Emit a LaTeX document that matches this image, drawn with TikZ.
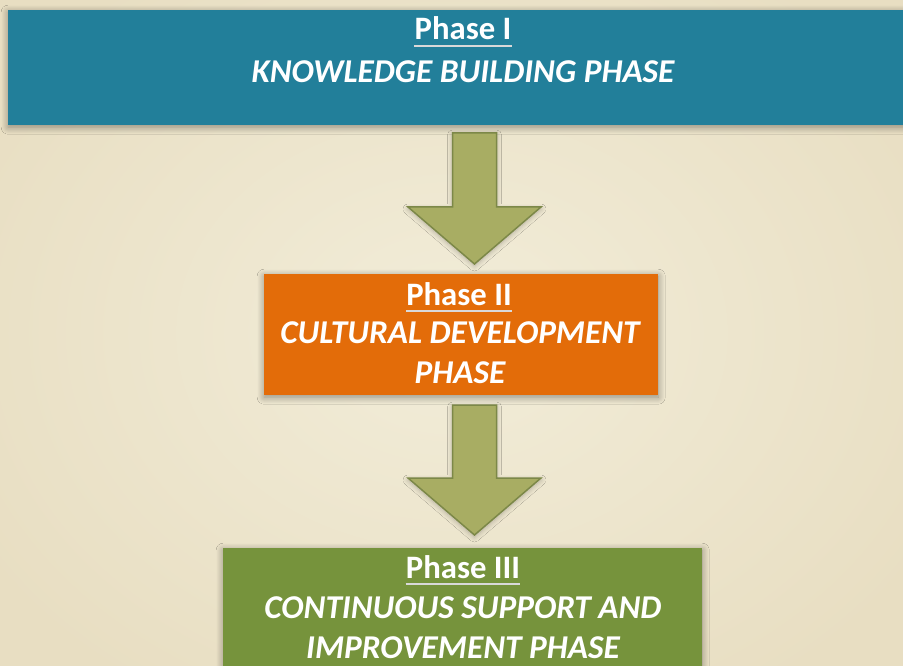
\documentclass[tikz,border=0pt]{standalone}
\usepackage{fontspec}
\setmainfont{Carlito}
\usetikzlibrary{shadows.blur}
\definecolor{bgin}{HTML}{F2EDD9}
\definecolor{bgout}{HTML}{E8DEC2}
\definecolor{tealbox}{HTML}{227F9A}
\definecolor{orangebox}{HTML}{E36C09}
\definecolor{greenbox}{HTML}{76933C}
\definecolor{arrowfill}{HTML}{A8AD63}
\definecolor{arrowline}{HTML}{7C8848}
\tikzset{
  phasebox/.style={draw=none, rectangle, inner sep=0pt,
    blur shadow={shadow xshift=0pt, shadow yshift=-2pt, shadow blur radius=7pt, shadow blur steps=12, shadow opacity=40}},
  phasetitle/.style={anchor=base, inner sep=0pt, text=white, font=\fontsize{32.7}{38}\selectfont\bfseries},
  phasename/.style={anchor=base, inner sep=0pt, text=white, font=\fontsize{33.3}{38}\selectfont\bfseries\itshape},
  uline/.style={draw=white!85!black, line width=1.5pt},
  blockarrow/.style={fill=arrowfill, draw=arrowline, line width=1.5pt, line join=miter,
    blur shadow={shadow xshift=0pt, shadow yshift=-2pt, shadow blur radius=5pt, shadow blur steps=10, shadow opacity=25}}
}
\begin{document}
\begin{tikzpicture}[x=1pt,y=-1pt]
\useasboundingbox (0,0) rectangle (903,666);
\begin{scope}
\clip (0,0) rectangle (903,666);
\shade[inner color=bgin, outer color=bgout] (-100,-100) rectangle (1003,766);
% boxes
\node[phasebox, fill=tealbox, minimum width=912pt, minimum height=115pt, anchor=north west] (p1) at (8,10) {};
\node[phasebox, fill=orangebox, minimum width=394pt, minimum height=121pt, anchor=north west] (p2) at (264,274) {};
\node[phasebox, fill=greenbox, minimum width=479pt, minimum height=124pt, anchor=north west] (p3) at (223,548) {};
% block arrows
\draw[blockarrow] (452.5,133) -- (496.5,133) -- (496.5,207) -- (541,207) -- (474.5,264) -- (408,207) -- (452.5,207) -- cycle;
\draw[blockarrow] (452.5,405) -- (496.5,405) -- (496.5,478) -- (541,478) -- (474.5,535) -- (408,478) -- (452.5,478) -- cycle;
% texts
\node[phasetitle] (t1) at (463,40) {Phase I};
\draw[uline] ([yshift=-6pt]t1.base west) -- ([yshift=-6pt]t1.base east);
\node[phasename] (n1) at (463,83) {KNOWLEDGE BUILDING PHASE};
\node[phasetitle] (t2) at (459,305) {Phase II};
\draw[uline] ([yshift=-6pt]t2.base west) -- ([yshift=-6pt]t2.base east);
\node[phasename] (n2a) at (460,343) {CULTURAL DEVELOPMENT};
\node[phasename] (n2b) at (460,383) {PHASE};
\node[phasetitle] (t3) at (463,578) {Phase III};
\draw[uline] ([yshift=-6pt]t3.base west) -- ([yshift=-6pt]t3.base east);
\node[phasename] (n3a) at (463,618) {CONTINUOUS SUPPORT AND};
\node[phasename] (n3b) at (463,658) {IMPROVEMENT PHASE};
\end{scope}
\end{tikzpicture}
\end{document}
